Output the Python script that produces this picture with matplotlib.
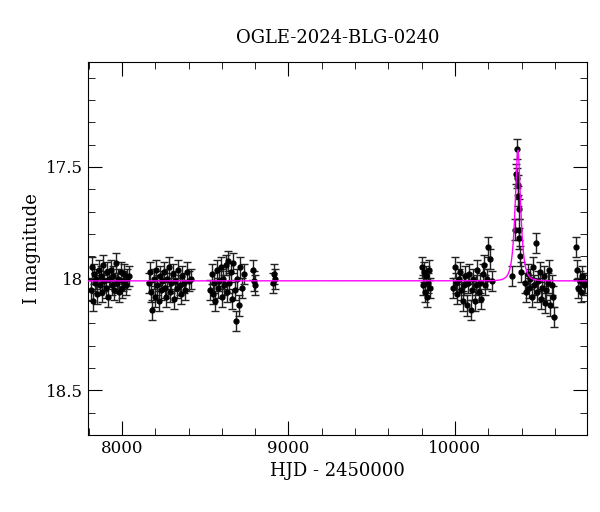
import numpy as np
import matplotlib
matplotlib.use("Agg")
import matplotlib.pyplot as plt
from matplotlib.ticker import MultipleLocator

title = "OGLE-2024-BLG-0240"
hjd = [7812,7818,7825,7831,7838,7845,7852,7860,7866,7873,7880,7888,7895,7902,7910,7918,7925,7933,7940,7948,7955,7962,7970,7978,7985,7993,8000,8008,8015,8022,8030,8040,
       8160,8168,8176,8183,8190,8197,8205,8212,8220,8228,8236,8243,8250,8258,8266,8273,8281,8289,8297,8305,8313,8321,8330,8338,8346,8355,8363,8371,8380,8390,8400,8412,
       8530,8538,8546,8553,8561,8568,8576,8584,8592,8600,8607,8615,8622,8630,8637,8645,8652,8660,8668,8676,8684,8692,8700,8710,8720,8735,8785,8792,8800,8905,8912,8918,
       9800,9806,9812,9818,9824,9830,9836,9842,9848,
       9990,9998,10006,10014,10022,10030,10038,10046,10054,10062,10070,10078,10086,10094,10102,10110,10118,10126,10134,10142,10150,10158,10166,10174,10182,10190,10200,10210,10220,
       10345,10362,10368,10372,10375,10378,10380,10382,10384,10386,10390,10396,
       10420,10428,10436,10444,10452,10460,10468,10476,10484,10492,10500,10508,10516,10524,10532,10540,10548,10556,10564,10572,10580,10588,10596,
       10725,10733,10740,10748,10756,10764,10772,10780]
mag = [18.05,17.95,18.10,17.98,18.02,18.00,18.07,17.96,18.03,17.99,18.06,17.94,18.01,18.04,17.97,18.08,18.00,17.96,18.03,17.99,18.05,17.93,18.02,18.00,18.06,17.97,18.04,18.01,17.98,18.03,18.00,17.99,
       18.02,17.97,18.06,18.14,18.00,18.08,17.96,18.03,18.10,17.99,18.05,18.01,17.97,18.04,18.08,18.00,17.95,18.06,18.02,17.98,18.09,18.01,18.04,17.96,18.03,18.07,17.99,18.02,18.05,17.97,18.01,18.00,
       18.05,17.98,18.07,18.02,18.10,17.96,18.04,18.01,17.95,18.08,18.00,18.03,17.94,18.06,17.92,18.02,17.97,18.09,17.93,18.05,18.19,18.00,18.12,17.95,18.04,17.98,17.96,18.01,18.03,18.02,17.98,18.00,
       17.95,18.03,17.97,18.06,17.99,18.08,18.02,17.96,18.04,
       18.04,17.95,18.02,18.07,18.00,17.97,18.05,18.10,18.03,17.99,18.12,18.02,17.98,18.14,18.05,18.00,18.10,18.03,17.96,18.06,18.02,18.09,17.98,17.94,18.03,18.00,17.86,17.91,18.01,
       17.99,17.78,17.53,17.42,17.55,17.58,17.63,17.69,17.78,17.82,17.90,17.97,
       18.02,18.06,17.98,18.04,18.00,18.08,17.95,18.03,17.84,18.06,18.01,17.97,18.09,18.04,17.99,18.11,18.05,18.02,17.96,18.12,18.03,18.08,18.17,
       17.86,17.96,18.04,18.01,18.06,17.99,18.03,18.02]
err = 0.045

t0, tE, u0, base = 10378.0, 24.0, 0.68, 18.01

plt.rcParams['font.family'] = 'DejaVu Serif'
fig = plt.figure(figsize=(6.0, 5.12), dpi=100)
ax = fig.add_axes([88/600, 1-435/512, (587-88)/600, (435-62)/512])
ax.errorbar(hjd, mag, yerr=err, fmt='o', ms=3.5, color='black', ecolor='#222222', elinewidth=1, capsize=3, capthick=1, zorder=2)
t = np.linspace(7796, 10793, 4000)
u = np.sqrt(u0**2 + ((t - t0) / tE)**2)
A = (u**2 + 2) / (u * np.sqrt(u**2 + 4))
ax.plot(t, base - 2.5*np.log10(A), color='magenta', lw=1, zorder=3)
ax.set_xlim(7796, 10793)
ax.set_ylim(18.70, 17.03)
ax.xaxis.set_major_locator(MultipleLocator(1000))
ax.xaxis.set_minor_locator(MultipleLocator(200))
ax.yaxis.set_minor_locator(MultipleLocator(0.1))
ax.set_yticks([17.5, 18, 18.5])
ax.set_yticklabels(['17.5', '18', '18.5'])
ax.tick_params(which='both', direction='in', top=True, right=True, labelsize=12)
ax.tick_params(which='major', length=10)
ax.tick_params(which='minor', length=5)
ax.set_xlabel('HJD - 2450000', fontsize=13)
ax.set_ylabel('I magnitude', fontsize=13)
ax.set_title(title, fontsize=13, pad=14)
fig.savefig('out.png', dpi=100)
